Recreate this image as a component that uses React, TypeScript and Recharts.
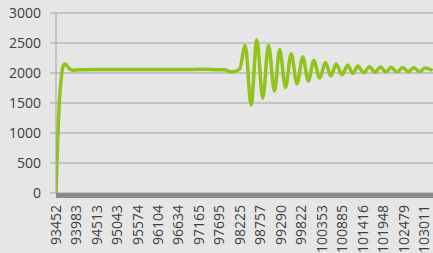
import React from "react";
import { LineChart, Line, XAxis, YAxis, CartesianGrid } from "recharts";

const xValues = [
  93452, 93491, 93543, 93595, 93647, 93686, 93751, 93828, 93906, 94062,
  94600, 95300, 96000, 96700, 97300, 97700, 97826, 98000, 98216,
  98364, 98519, 98665, 98821, 98969, 99124, 99259, 99410, 99558, 99708,
  99859, 100002, 100145, 100298, 100448, 100588, 100726, 100877, 101027, 101157,
  101287, 101440, 101590, 101733, 101876, 102016, 102154, 102304, 102455, 102598,
  102741, 102894, 103044, 103226,
];
const yValues = [
  0, 780, 1560, 1960, 2130, 2150, 2110, 2060, 2045, 2055,
  2060, 2058, 2060, 2058, 2062, 2055, 2055, 2015, 2060,
  2460, 1470, 2550, 1580, 2460, 1700, 2390, 1760, 2320, 1820,
  2265, 1865, 2210, 1915, 2175, 1950, 2150, 1970, 2130, 1990,
  2115, 2005, 2105, 2010, 2100, 2015, 2095, 2015, 2090, 2020,
  2088, 2020, 2085, 2040,
];
const xTicks = [
  93452, 93983, 94513, 95043, 95574, 96104, 96634, 97165, 97695, 98225,
  98757, 99290, 99822, 100353, 100885, 101416, 101948, 102479, 103011,
];
const yTicks = [0, 500, 1000, 1500, 2000, 2500, 3000];

const data = xValues.map((x, i) => ({ x, y: yValues[i] }));

const FONT = "'Open Sans', sans-serif";

const XTick = (props: any) => {
  const { x, y, payload } = props;
  return (
    <text
      x={x}
      y={y}
      transform={`rotate(-90 ${x} ${y})`}
      textAnchor="end"
      dy="0.35em"
      fontFamily={FONT}
      fontSize={14}
      fill="#404040"
    >
      {payload.value}
    </text>
  );
};

export default function App() {
  return (
    <div
      style={{
        position: "absolute",
        left: 0,
        top: 0,
        width: 433,
        height: 253,
        background: "#e6e6e6",
        overflow: "hidden",
      }}
    >
      <LineChart
        width={433}
        height={253}
        data={data}
        margin={{ top: 13, right: 0, left: 0, bottom: 0 }}
      >
        <CartesianGrid vertical={false} stroke="#a3a3a3" strokeWidth={1} />
        <XAxis
          dataKey="x"
          type="number"
          domain={[93452, 103240]}
          allowDataOverflow
          ticks={xTicks}
          interval={0}
          height={60}
          tickLine={false}
          tickSize={6}
          tickMargin={6}
          axisLine={{ stroke: "#8a8a8a", strokeWidth: 5, transform: "translate(0,2.5)" }}
          tick={<XTick />}
        />
        <YAxis
          type="number"
          domain={[0, 3000]}
          ticks={yTicks}
          interval={0}
          width={56}
          tickSize={6}
          tickMargin={9}
          tickLine={{ stroke: "#a3a3a3" }}
          axisLine={{ stroke: "#a3a3a3" }}
          tick={{ fontFamily: FONT, fontSize: 14, fill: "#404040" }}
        />
        <Line
          type="monotone"
          dataKey="y"
          stroke="#92c31d"
          strokeWidth={3.5}
          dot={false}
          isAnimationActive={false}
        />
      </LineChart>
    </div>
  );
}
